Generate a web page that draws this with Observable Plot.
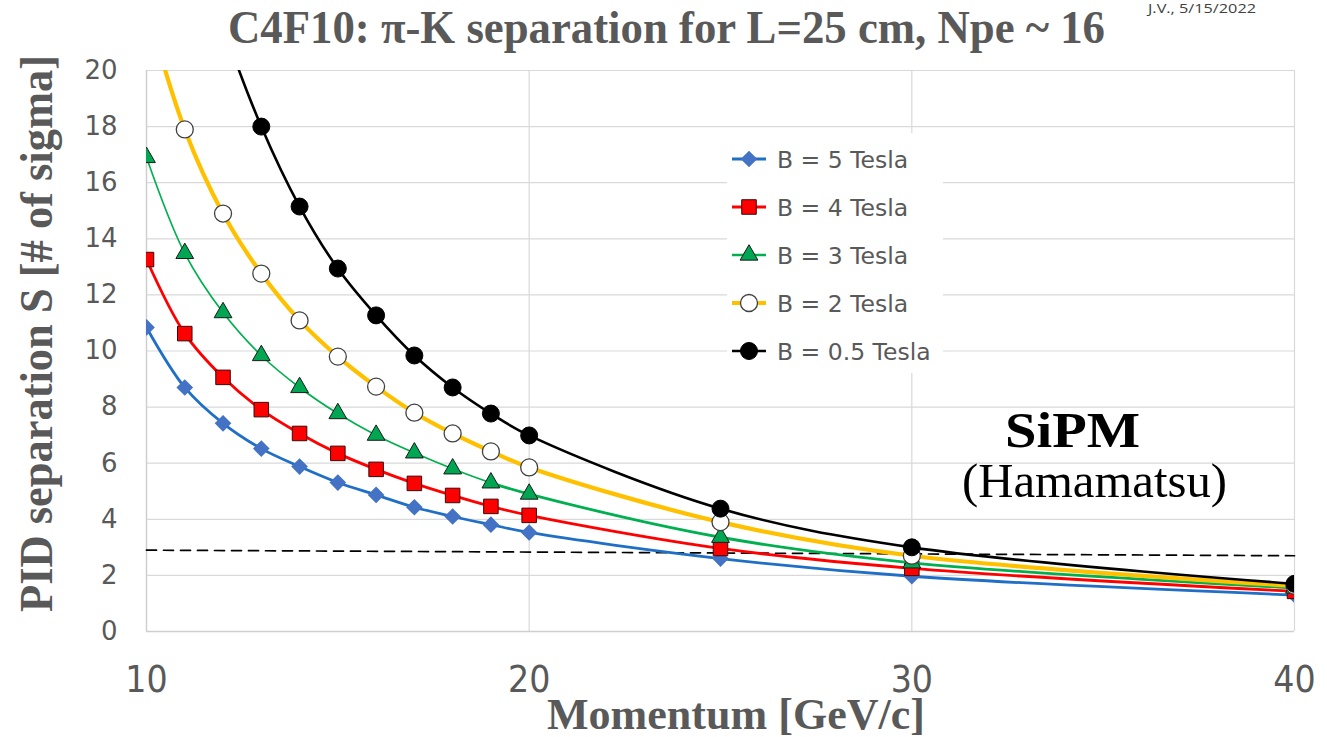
<!DOCTYPE html>
<html>
<head>
<meta charset="utf-8">
<script src="https://cdn.jsdelivr.net/npm/d3@7"></script>
<script src="https://cdn.jsdelivr.net/npm/@observablehq/plot@0.6"></script>
<style>
  body { margin: 0; background: #fff; }
  #chart svg { display: block; }
</style>
</head>
<body>
<div id="chart"></div>
<script>
// Momentum points [GeV/c]
const momentum = [10, 11, 12, 13, 14, 15, 16, 17, 18, 19, 20, 25, 30, 40];
// PID separation S [# of sigma] for each magnetic field
const sepB5  = [10.84, 8.7, 7.42, 6.52, 5.88, 5.31, 4.87, 4.43, 4.1, 3.81, 3.53, 2.6, 1.97, 1.3];
const sepB4  = [13.26, 10.62, 9.06, 7.91, 7.06, 6.35, 5.78, 5.28, 4.85, 4.46, 4.14, 2.96, 2.25, 1.43];
const sepB3  = [16.9, 13.48, 11.37, 9.84, 8.7, 7.77, 7.0, 6.37, 5.8, 5.3, 4.9, 3.36, 2.45, 1.55];
const sepB2  = [22.3, 17.9, 14.9, 12.76, 11.09, 9.8, 8.73, 7.8, 7.06, 6.42, 5.85, 3.9, 2.7, 1.63];
const sepB05 = [32.5, 26.0, 21.6, 18.0, 15.15, 12.94, 11.27, 9.84, 8.7, 7.77, 6.99, 4.38, 3.0, 1.7];
const seriesLabels = ["B = 5 Tesla", "B = 4 Tesla", "B = 3 Tesla", "B = 2 Tesla", "B = 0.5 Tesla"];
// 3-sigma reference line
const limitMomentum = [10, 40];
const limitSep = [2.9, 2.7];
// Axis ticks
const xTicks = [10, 20, 30, 40];
const yTicks = [0, 2, 4, 6, 8, 10, 12, 14, 16, 18, 20];
const xGrid = [20, 30, 40];

const rowsOf = (vals) => momentum.map((p, i) => ({p, s: vals[i]}));

const series = [
  {label: seriesLabels[0], rows: rowsOf(sepB5),  line: "#1f6fc6", width: 2.8, symbol: "diamond2", r: 7.5, fill: "#4472c4", stroke: "none", sw: 0},
  {label: seriesLabels[1], rows: rowsOf(sepB4),  line: "#ff0000", width: 2.8, symbol: "square",   r: 8.2, fill: "#ff0000", stroke: "#3a0a0a", sw: 1},
  {label: seriesLabels[2], rows: rowsOf(sepB3),  line: "#00b050", width: 1.7, symbol: "triangle", r: 6.6, fill: "#00a651", stroke: "#1a1a1a", sw: 1},
  {label: seriesLabels[3], rows: rowsOf(sepB2),  line: "#ffc000", width: 4.2, symbol: "circle",   r: 8.5, fill: "#ffffff", stroke: "#404040", sw: 1.3},
  {label: seriesLabels[4], rows: rowsOf(sepB05), line: "#000000", width: 2.6, symbol: "circle",   r: 8.5, fill: "#000000", stroke: "#000000", sw: 1}
];

const seriesMarks = series.flatMap((d, k) => {
  const lines = [];
  if (k === 2) {
    // the 3 T curve is drawn thin up to 20 GeV/c and heavier beyond
    lines.push(Plot.line(d.rows.filter(r => r.p <= 20), {x: "p", y: "s", stroke: d.line, strokeWidth: d.width, curve: "catmull-rom", clip: true}));
    lines.push(Plot.line(d.rows.filter(r => r.p >= 19), {x: "p", y: "s", stroke: d.line, strokeWidth: 2.8, curve: "catmull-rom", clip: true}));
  } else {
    lines.push(Plot.line(d.rows, {x: "p", y: "s", stroke: d.line, strokeWidth: d.width, curve: "catmull-rom", clip: true}));
  }
  return [
    ...lines,
    Plot.dot(d.rows, {x: "p", y: "s", symbol: d.symbol, r: d.r, fill: d.fill, stroke: d.stroke, strokeWidth: d.sw, clip: true})
  ];
});

const limitRows = limitMomentum.map((p, i) => ({p, s: limitSep[i]}));

const chart = Plot.plot({
  width: 1327,
  height: 737,
  marginLeft: 146,
  marginRight: 33,
  marginTop: 70,
  marginBottom: 106,
  style: {background: "#ffffff", overflow: "visible"},
  x: {domain: [10, 40]},
  y: {domain: [0, 20]},
  marks: [
    Plot.gridY(yTicks, {stroke: "#d9d9d9", strokeOpacity: 1, strokeWidth: 1.2}),
    Plot.gridX(xGrid, {stroke: "#d9d9d9", strokeOpacity: 1, strokeWidth: 1.2}),
    Plot.ruleX([10], {stroke: "#cfcfcf", strokeWidth: 1.5}),
    Plot.ruleY([0], {stroke: "#cfcfcf", strokeWidth: 1.5}),
    Plot.axisY(yTicks, {tickSize: 0, tickPadding: 29, fontSize: 26, fontFamily: "DejaVu Sans", color: "#595959", label: null}),
    Plot.axisX(xTicks, {tickSize: 0, tickPadding: 34, fontSize: 37, fontFamily: "'Liberation Sans Narrow', 'DejaVu Sans Condensed', sans-serif", color: "#595959", label: null}),
    Plot.line(limitRows, {x: "p", y: "s", stroke: "#000000", strokeWidth: 1.7, strokeDasharray: "10,7"}),
    ...seriesMarks
  ]
});

document.getElementById("chart").appendChild(chart);

// Titles, annotations and legend
const svg = d3.select(chart);
const serif = "'Liberation Serif', 'Times New Roman', serif";

const addText = (txt, o) => {
  const t = svg.append("text")
    .attr("x", o.x).attr("y", o.y)
    .attr("font-family", o.family || serif)
    .attr("font-size", o.size)
    .attr("font-weight", o.weight || "normal")
    .attr("fill", o.fill || "#595959")
    .attr("text-anchor", o.anchor || "start")
    .text(txt);
  if (o.length) t.attr("textLength", o.length).attr("lengthAdjust", "spacingAndGlyphs");
  if (o.transform) t.attr("transform", o.transform);
  return t;
};

addText("C4F10: \u03c0-K separation for L=25 cm, Npe ~ 16", {x: 228, y: 43, size: 46, weight: "bold", length: 877});
addText("J.V., 5/15/2022", {x: 1148, y: 13, size: 13, family: "'Open Sans', sans-serif", fill: "#404040", length: 108});
addText("PID separation S [# of sigma]", {x: 0, y: 0, size: 47, weight: "bold", anchor: "middle", length: 557, transform: "translate(52,333.5) rotate(-90)"});
addText("Momentum [GeV/c]", {x: 547, y: 729, size: 44, weight: "bold", length: 378});
addText("SiPM", {x: 1005, y: 447, size: 51, weight: "bold", fill: "#000000", length: 135});
addText("(Hamamatsu)", {x: 962, y: 497, size: 48, fill: "#000000", length: 265});

const legend = svg.append("g");
legend.append("rect").attr("x", 727).attr("y", 133).attr("width", 216).attr("height", 240).attr("fill", "#ffffff");
const symbolTypes = {diamond2: d3.symbolDiamond2, square: d3.symbolSquare, triangle: d3.symbolTriangle, circle: d3.symbolCircle};
series.forEach((d, i) => {
  const cy = 159 + i * 48;
  legend.append("line").attr("x1", 732).attr("x2", 766).attr("y1", cy).attr("y2", cy)
    .attr("stroke", d.line).attr("stroke-width", d.width > 2 ? d.width : 2.4);
  legend.append("path")
    .attr("d", d3.symbol().type(symbolTypes[d.symbol]).size(Math.PI * d.r * d.r)())
    .attr("transform", `translate(749,${cy})`)
    .attr("fill", d.fill).attr("stroke", d.stroke).attr("stroke-width", d.sw);
  legend.append("text").attr("x", 777).attr("y", cy + 8.5)
    .attr("text-anchor", "start")
    .attr("font-family", "'DejaVu Sans', sans-serif").attr("font-size", 23.5)
    .attr("fill", "#595959").text(d.label);
});
</script>
</body>
</html>
